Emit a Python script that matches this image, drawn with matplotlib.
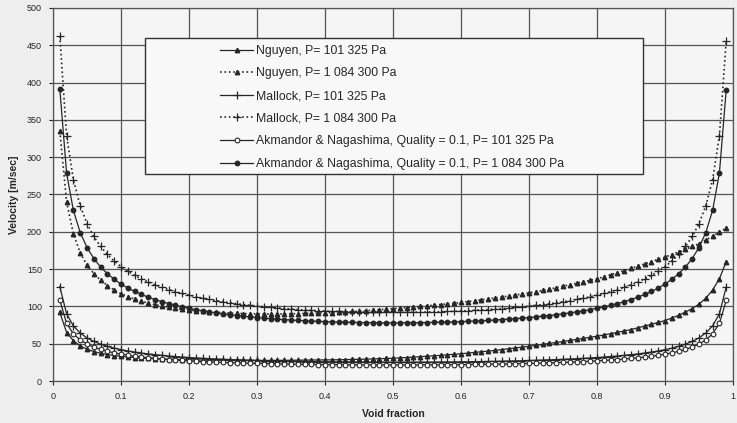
import numpy as np
import matplotlib
matplotlib.use("Agg")
import matplotlib.pyplot as plt
from matplotlib.patches import Rectangle

plt.rcParams['font.family'] = ['Liberation Sans', 'DejaVu Sans']

# void fraction grid, 0.01 .. 0.99
void = np.round(np.arange(1, 100) / 100.0, 2)

# ---- velocities [m/sec] ----
nguyen_low = [92, 65, 54, 47, 42.5, 39.5, 37.2, 35.5, 34.1, 33.0,
              32.1, 31.4, 30.8, 30.3, 29.9, 29.5, 29.2, 28.9, 28.7, 28.5,
              28.3, 28.1, 28.0, 27.9, 27.8, 27.7, 27.7, 27.6, 27.6, 27.6,
              27.6, 27.6, 27.7, 27.7, 27.8, 27.9, 28.0, 28.1, 28.2, 28.3,
              28.4, 28.5, 28.7, 28.9, 29.1, 29.3, 29.6, 29.9, 30.2, 30.5,
              31.0, 31.5, 32.0, 32.6, 33.2, 33.8, 34.4, 35.1, 35.8, 36.5,
              37.4, 38.3, 39.2, 40.1, 41.0, 42.1, 43.2, 44.3, 45.4, 46.5,
              47.8, 49.1, 50.4, 51.7, 53.0, 54.4, 55.8, 57.2, 58.6, 60.0,
              61.7, 63.4, 65.2, 67.1, 69.0, 71.3, 73.6, 76.0, 78.5, 81.0,
              84.5, 88.0, 92.5, 97.0, 103.0, 111.0, 122.0, 137.0, 160.0]

nguyen_high = [335, 240, 197, 172, 155, 144, 135, 128, 122, 117,
               113, 110, 107, 104.5, 102.5, 100.5, 99, 97.5, 96.3, 95.2,
               94.3, 93.5, 92.8, 92.2, 91.6, 91.1, 90.7, 90.4, 90.2, 90.0,
               89.9, 89.9, 89.9, 90.0, 90.1, 90.3, 90.5, 90.8, 91.1, 91.4,
               91.8, 92.2, 92.7, 93.2, 93.7, 94.3, 94.9, 95.5, 96.2, 96.9,
               97.6, 98.3, 99.1, 99.9, 100.7, 101.6, 102.5, 103.4, 104.3, 105.3,
               106.4, 107.6, 108.8, 110.0, 111.3, 112.6, 113.9, 115.2, 116.6, 118.0,
               119.7, 121.4, 123.2, 125.1, 127.0, 129.0, 131.0, 133.0, 135.0, 137.0,
               139.7, 142.4, 145.2, 148.1, 151.0, 154.0, 157.0, 160.0, 163.0, 166.0,
               169.5, 173.0, 176.6, 180.3, 184.0, 189.0, 194.0, 199.5, 205.0]

mallock_low = [126.6, 90.0, 73.9, 64.3, 57.8, 53.1, 49.4, 46.4, 44.0, 42.0,
               40.3, 38.8, 37.5, 36.3, 35.3, 34.4, 33.5, 32.8, 32.1, 31.5,
               30.9, 30.4, 29.9, 29.5, 29.1, 28.7, 28.4, 28.1, 27.8, 27.5,
               27.2, 27.0, 26.8, 26.6, 26.4, 26.2, 26.1, 26.0, 25.8, 25.7,
               25.6, 25.5, 25.5, 25.4, 25.3, 25.3, 25.2, 25.2, 25.2, 25.2,
               25.2, 25.2, 25.2, 25.3, 25.3, 25.4, 25.5, 25.5, 25.6, 25.7,
               25.8, 26.0, 26.1, 26.2, 26.4, 26.6, 26.8, 27.0, 27.2, 27.5,
               27.8, 28.1, 28.4, 28.7, 29.1, 29.5, 29.9, 30.4, 30.9, 31.5,
               32.1, 32.8, 33.5, 34.4, 35.3, 36.3, 37.5, 38.8, 40.3, 42.0,
               44.0, 46.4, 49.4, 53.1, 57.8, 64.3, 73.9, 90.0, 126.0]

mallock_high = [462.3, 328.6, 269.7, 234.7, 211.0, 193.7, 180.3, 169.6, 160.7, 153.3,
                147.0, 141.5, 136.8, 132.6, 128.8, 125.5, 122.5, 119.7, 117.3, 115.0,
                112.9, 111.0, 109.3, 107.7, 106.2, 104.9, 103.6, 102.4, 101.4, 100.4,
                99.5, 98.6, 97.8, 97.1, 96.5, 95.8, 95.3, 94.8, 94.3, 93.9,
                93.5, 93.2, 92.9, 92.7, 92.5, 92.3, 92.2, 92.1, 92.0, 92.0,
                92.0, 92.1, 92.2, 92.3, 92.5, 92.7, 92.9, 93.2, 93.5, 93.9,
                94.3, 94.8, 95.3, 95.8, 96.5, 97.1, 97.8, 98.6, 99.5, 100.4,
                101.4, 102.4, 103.6, 104.9, 106.2, 107.7, 109.3, 111.0, 112.9, 115.0,
                117.3, 119.7, 122.5, 125.5, 128.8, 132.6, 136.8, 141.5, 147.0, 153.3,
                160.7, 169.6, 180.3, 193.7, 211.0, 234.7, 269.7, 328.6, 456.0]

akmandor_low = [108.5, 77.1, 63.3, 55.1, 49.6, 45.5, 42.3, 39.8, 37.7, 36.0,
                34.5, 33.2, 32.1, 31.1, 30.3, 29.5, 28.7, 28.1, 27.5, 27.0,
                26.5, 26.1, 25.7, 25.3, 24.9, 24.6, 24.3, 24.1, 23.8, 23.6,
                23.3, 23.2, 23.0, 22.8, 22.6, 22.5, 22.4, 22.2, 22.1, 22.0,
                22.0, 21.9, 21.8, 21.8, 21.7, 21.7, 21.6, 21.6, 21.6, 21.6,
                21.6, 21.6, 21.6, 21.7, 21.7, 21.8, 21.8, 21.9, 22.0, 22.0,
                22.1, 22.2, 22.4, 22.5, 22.6, 22.8, 23.0, 23.2, 23.3, 23.6,
                23.8, 24.1, 24.3, 24.6, 24.9, 25.3, 25.7, 26.1, 26.5, 27.0,
                27.5, 28.1, 28.7, 29.5, 30.3, 31.1, 32.1, 33.2, 34.5, 36.0,
                37.7, 39.8, 42.3, 45.5, 49.6, 55.1, 63.3, 77.1, 108.0]

akmandor_high = [392.0, 278.6, 228.6, 199.0, 178.9, 164.2, 152.8, 143.8, 136.3, 130.0,
                 124.6, 120.0, 116.0, 112.4, 109.2, 106.4, 103.8, 101.5, 99.4, 97.5,
                 95.7, 94.1, 92.7, 91.3, 90.1, 88.9, 87.8, 86.9, 86.0, 85.1,
                 84.3, 83.6, 83.0, 82.3, 81.8, 81.2, 80.8, 80.3, 80.0, 79.6,
                 79.3, 79.0, 78.8, 78.6, 78.4, 78.2, 78.2, 78.1, 78.0, 78.0,
                 78.0, 78.1, 78.2, 78.2, 78.4, 78.6, 78.8, 79.0, 79.3, 79.6,
                 80.0, 80.3, 80.8, 81.2, 81.8, 82.3, 83.0, 83.6, 84.3, 85.1,
                 86.0, 86.9, 87.8, 88.9, 90.1, 91.3, 92.7, 94.1, 95.7, 97.5,
                 99.4, 101.5, 103.8, 106.4, 109.2, 112.4, 116.0, 120.0, 124.6, 130.0,
                 136.3, 143.8, 152.8, 164.2, 178.9, 199.0, 228.6, 278.6, 390.0]

labels = ['Nguyen, P= 101 325 Pa',
          'Nguyen, P= 1 084 300 Pa',
          'Mallock, P= 101 325 Pa',
          'Mallock, P= 1 084 300 Pa',
          'Akmandor & Nagashima, Quality = 0.1, P= 101 325 Pa',
          'Akmandor & Nagashima, Quality = 0.1, P= 1 084 300 Pa']

ink = '#262626'

fig = plt.figure(figsize=(7.37, 4.23), dpi=100, facecolor='#eeeeee')
ax = fig.add_axes([53 / 737, 42 / 423, 680 / 737, 373 / 423])
ax.set_facecolor('#f5f5f5')

ax.plot(void, nguyen_low, '-', color=ink, lw=0.9, marker='^', ms=3.2,
        mfc=ink, mec=ink, label=labels[0])
ax.plot(void, nguyen_high, ':', color=ink, lw=1.2, marker='^', ms=3.2,
        mfc=ink, mec=ink, label=labels[1])
ax.plot(void, mallock_low, '-', color=ink, lw=0.9, marker='+', ms=5.5,
        mew=0.9, label=labels[2])
ax.plot(void, mallock_high, ':', color=ink, lw=1.2, marker='+', ms=5.5,
        mew=0.9, label=labels[3])
ax.plot(void, akmandor_low, '-', color=ink, lw=0.9, marker='o', ms=3.4,
        mfc='white', mec=ink, mew=0.8, label=labels[4])
ax.plot(void, akmandor_high, '-', color=ink, lw=0.9, marker='o', ms=3.2,
        mfc=ink, mec=ink, label=labels[5])

ax.set_xlim(0, 1)
ax.set_ylim(0, 500)
ax.set_xticks(np.arange(0, 1.01, 0.1))
ax.set_xticklabels(['0', '0.1', '0.2', '0.3', '0.4', '0.5', '0.6', '0.7',
                    '0.8', '0.9', '1'])
ax.set_yticks(np.arange(0, 501, 50))
ax.tick_params(labelsize=6.5, length=3, width=0.8, colors=ink, pad=5)
ax.grid(True, color='#555555', lw=0.9)
ax.set_axisbelow(True)
for s in ax.spines.values():
    s.set_color('#555555')
    s.set_linewidth(0.9)

ax.set_xlabel('Void fraction', fontsize=7.5, fontweight='bold', color=ink,
              labelpad=6)
ax.set_ylabel('Velocity [m/sec]', fontsize=7.5, fontweight='bold', color=ink,
              labelpad=6)

# legend box like the spreadsheet one
box = Rectangle((92 / 680, (381 - 174) / 373), 498 / 680, 136 / 373,
                transform=ax.transAxes, facecolor='#f8f8f8',
                edgecolor='#333333', lw=1.0, zorder=4)
ax.add_patch(box)
leg = ax.legend(loc='upper left', bbox_to_anchor=(167 / 680, (381 - 44.8) / 373),
                frameon=False, fontsize=8.8, numpoints=1, handlelength=2.7,
                handletextpad=0.25, labelspacing=0.87, borderpad=0,
                borderaxespad=0)
leg.set_zorder(5)
for t in leg.get_texts():
    t.set_color(ink)

fig.savefig('out.png', dpi=100, facecolor=fig.get_facecolor())
